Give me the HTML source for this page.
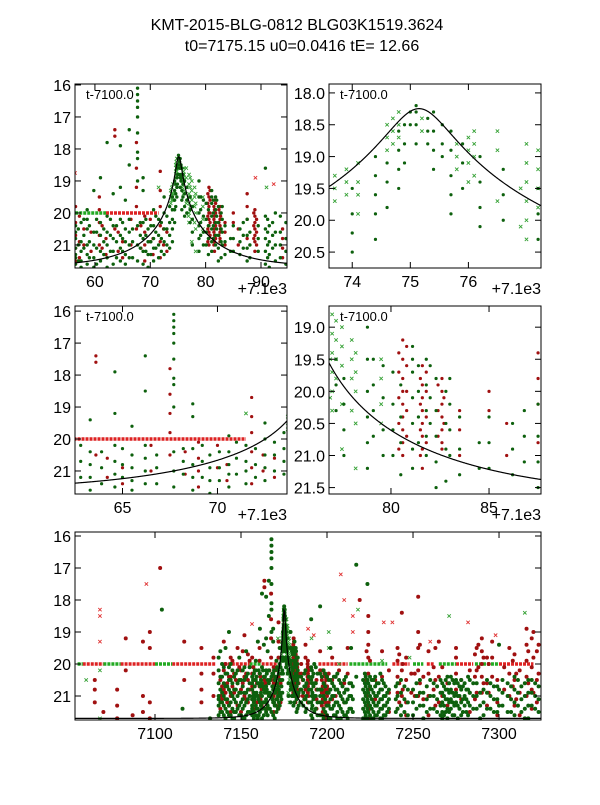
<!DOCTYPE html>
<html><head><meta charset="utf-8">
<style>
html,body{margin:0;padding:0;background:#fff;}
body{width:600px;height:800px;position:relative;overflow:hidden;font-family:"Liberation Sans",sans-serif;}
svg text{font-family:"Liberation Sans",sans-serif;}
</style></head>
<body>
<svg id="fig" width="600" height="800" xmlns="http://www.w3.org/2000/svg">
<text x="297" y="30" font-size="16" text-anchor="middle">KMT-2015-BLG-0812 BLG03K1519.3624</text>
<text x="302" y="51" font-size="16" text-anchor="middle">t0=7175.15 u0=0.0416 tE=  12.66</text>
</svg>
<script>
// ---- data (t - 7000, magnitudes) ----
const greenDots = ["104:18.3","116:21.4","132:21.7","138:19.6",
"137:20.2,20.6,21.0,21.3,21.6,19.8,21.1","139:20.4,20.9,21.2,21.5,20.0","141:19.5,20.3,20.7,21.1,21.4,21.7","143:20.1,20.5,20.8,21.3,21.6,19.0","145:20.6,21.0,21.4,21.7,20.2","147:20.3,20.8,21.2,21.5","149:19.8,20.5,20.9,21.3,21.6","151:20.2,20.7,21.1,21.4,21.7","153:20.4,20.9,21.2,21.6,19.6","155:20.1,20.6,21.0,21.5",
"156.5:20.4,20.8,21.1,21.4,21.6,20.6,21.3","157.5:20.3,20.9,21.2,21.5,21.7","158.6:19.9,20.5,21.0,21.3,21.6,20.2","159.8:20.6,21.0,21.4,21.7,19.3","161:20.3,20.7,21.2,21.5,18.9","162.2:17.8,20.1,20.6,21.0,21.4,21.7","163.3:20.4,20.8,21.2,21.6,19.4","164.6:17.9,19.2,20.2,20.7,21.1,21.5","165.5:20.5,20.9,21.3,21.6,19.6","166.2:17.4,18.5,20.2,20.6,21.0,21.4","167.7:16.1,16.3,16.5,16.7,17.0,17.5,18.1,18.3,19.0,20.4,21.0,21.5","168.7:19.3,20.3,20.8,21.2,21.6,18.9","169.6:20.5,20.9,21.3,21.7","170.6:19.9,20.4,20.8,21.1,21.5","171.5:20.2,20.7,21.0,21.4","172.5:19.5,20.0,20.5,20.9,21.3","173.5:19.8,20.3,20.7,21.1","174.0:19.5,19.9,20.2,20.5,20.9","174.4:19.0,19.3,19.6,19.9,20.3","174.8:18.6,18.9,19.2,19.5","175.1:18.2,18.3,18.5,18.8","175.4:18.3,18.6,18.9,19.2","175.7:18.6,18.9,19.3,19.6,19.9","176.2:19.0,19.4,19.8,20.1","177.6:19.8,20.2,20.6,21.0","178.8:19.0,19.5,20.0,20.4,20.8,21.2","179.6:19.6,20.1,20.6,21.0","180.5:19.9,20.4,20.8,21.3","181.1:19.3,19.7,20.1,20.5,20.9,21.2,19.5","182.3:19.8,20.3,20.7,21.1,21.5","182.8:20.0,20.5,20.9,21.4","183.5:20.4,20.9,21.3","184.5:20.8,21.2","186.2:20.5,20.9,21.3","187.5:20.2,20.7,21.1,21.5","190.8:20.1,20.5,20.8,21.2,21.6,18.6","191.5:20.4,20.9,21.3,21.7","192.6:20.0,20.6,21.0,21.5","194.5:20.3,20.8,21.2,21.6",
"196:18.2,20.3,20.8,21.2,21.6,21.0","198:20.6,21.0,21.4,21.7,20.2","200:20.4,20.9,21.3,21.6","202:20.5,20.8,21.1,21.4,21.7,19.5","204:20.7,21.0,21.3,21.6,20.4","206:20.3,20.8,21.2,21.5,21.7","208:20.6,21.0,21.4,21.7","210:20.5,20.9,21.2,21.6","212:20.8,21.1,21.5,21.7","214:19.5,20.6,21.0,21.4","217:16.9,20.4","222:20.6,20.9,21.2,21.5,21.7,20.3","223.5:17.5,20.5,20.8,21.1,21.4,21.7","225:20.7,21.0,21.3,21.6,20.4","227:20.5,20.9,21.2,21.5,21.7","229:20.6,21.0,21.3,21.6","231:20.8,21.1,21.4,21.7,20.3","233:20.6,21.0,21.3,21.6","235:20.9,21.2,21.5","240:20.7,21.1,21.5","243:20.5,20.9,21.3,21.6","247:20.8,21.2,21.6","252:20.6,21.0,21.4","256:20.9,21.3,21.7","260:20.5,21.0,21.4","264:20.7,21.1,21.5","267:20.6,20.9,21.2,21.5,21.7","270:20.4,20.8,21.1,21.4,21.7","273:20.5,20.9,21.2,21.6","276:20.6,21.0,21.3,21.7","279:20.7,21.1,21.5","282:20.4,20.8,21.2,21.6","285:20.6,21.0,21.4","289:20.9,21.3,21.7","293:20.5,20.9,21.4","297:20.7,21.1,21.5","300:19.4,20.8,21.3","305:20.6,21.0,21.5","309:20.4,20.8,21.2,21.6","313:20.7,21.1,21.5","317:20.5,20.9,21.3,21.7","321:20.6,21.0,21.4"];
const greenDotsExtra = ["138:20.4,20.8,21.2,21.5","140:20.1,20.6,21.0,21.3,21.6","142:20.3,20.7,21.1,21.5","144:20.0,20.5,20.9,21.2,21.6","146:20.4,20.8,21.1,21.5,21.7","148:20.2,20.6,21.0,21.4","150:20.5,20.9,21.2,21.6","152:20.1,20.5,20.9,21.3,21.7","154:20.3,20.8,21.1,21.5",
"157:20.5,21.0,21.5","158:20.2,20.7,21.1","159:20.4,20.9,21.4","160.3:20.2,20.6,21.1,21.6","161.6:20.5,20.9,21.3","162.8:20.2,20.7,21.2","163.9:20.4,20.9,21.4","165:20.3,20.8,21.2","166.8:20.5,20.9,21.4","168.2:20.3,20.7,21.1","169.2:20.2,20.7,21.2","170.1:20.4,20.9,21.3","171:20.1,20.6,21.1","172:20.3,20.8,21.2","173:20.1,20.5,21.0",
"174.6:19.1,19.4,19.8","174.9:18.5,18.8,19.1","175.0:18.3,18.5","175.3:18.4,18.6,18.8","175.55:18.5,18.8,19.0","175.9:18.8,19.1,19.5","176.6:19.2,19.6,20.0","177.2:19.5,19.9,20.3",
"179.1:19.5,19.9,20.3,20.7","180.1:19.7,20.2,20.6,21.0","181.4:19.6,20.0,20.4,20.8","181.8:19.5,19.9,20.3,20.7,21.0","182.0:19.6,20.1,20.5","183.0:19.8,20.2,20.6,21.0","185:20.4,20.8,21.2","186.8:20.3,20.7,21.1","188:20.6,21.0,21.4","189.5:20.4,20.8,21.2","191.2:20.2,20.6,21.0,21.4","192.1:20.3,20.7,21.1","193.5:20.1,20.6,21.0,21.4",
"197:20.4,20.8,21.2,21.6","199:20.3,20.7,21.1,21.5","201:20.5,20.9,21.3,21.7","203:20.6,21.0,21.4","205:20.4,20.8,21.2,21.6","207:20.5,20.9,21.3","209:20.7,21.1,21.5","211:20.4,20.8,21.2,21.6","213:20.6,21.0,21.4","215:20.7,21.1,21.5",
"221:20.5,20.8,21.1,21.4,21.7","222.5:20.4,20.7,21.0,21.3,21.6","224:20.6,20.9,21.2,21.5,21.8","226:20.5,20.8,21.1,21.4,21.7","228:20.4,20.7,21.0,21.3,21.6","230:20.6,20.9,21.2,21.5","232:20.5,20.8,21.1,21.4,21.7","234:20.7,21.0,21.3,21.6","236:20.8,21.1,21.4",
"241:20.6,21.0,21.4","245:20.7,21.1,21.5","250:20.8,21.2,21.6","254:20.5,20.9,21.3","258:20.7,21.1,21.5","262:20.6,21.0,21.4","266:20.5,20.9,21.3,21.6","268:20.7,21.0,21.3,21.6","269:20.5,20.8,21.1,21.5","271:20.6,20.9,21.2,21.5","272:20.4,20.8,21.1,21.4","274:20.6,21.0,21.3,21.6","275:20.5,20.9,21.2","277:20.7,21.0,21.4","278:20.5,20.8,21.2,21.6","280:20.6,21.0,21.3","281:20.8,21.1,21.5","283:20.5,20.9,21.3","287:20.6,21.0,21.4","291:20.8,21.2,21.6","295:20.6,21.0,21.4","299:20.7,21.1,21.5","302:20.5,20.9,21.3","307:20.7,21.1,21.5","311:20.5,20.9,21.3","315:20.6,21.0,21.4,21.7","319:20.5,20.9,21.3","323:20.7,21.1,21.5"];
const redDots = ["065:20.5,20.8,21.2","070:21.5","078:20.8,21.3,21.7","083:19.2,20.2","087:21.6","093:19.3,21.0,21.5","097:19.0,19.5,21.2,21.7","103:17.0","117:19.3,20.5","127:19.5,20.3,20.8,21.2","134:19.8,20.3,21.0",
"138:20.5,21.0,21.4","140:19.3,20.2,20.8","142:20.6,21.2","144:19.8,20.4,21.0,21.5","146:20.3,20.9","148:19.5,20.6,21.3","150:20.2,20.8,21.5","152:19.1,20.4,21.0","154:19.7,20.5,21.2",
"156.5:19.8,20.3,20.7,21.1,21.5","158:20.5,21.0","160.8:19.5,19.9,20.3,20.7,21.0","162:20.8,21.3","163.6:17.4,17.6,20.5","165:20.9,21.4","166.5:20.2,21.0","167.5:17.8,18.6,19.2,19.8,20.5","169:20.1,20.6,21.0,21.5","170.5:20.8,21.3","171.8:18.7,19.3,19.8,20.4,20.9,21.4","173:20.6,21.2",
"180.6:19.2,19.5,19.8,20.0,20.2,20.4,20.6,20.8,21.0","181.6:19.6,19.9,20.1,20.3,20.5,20.7,20.9,21.2","182.6:19.8,20.0,20.2,20.4,20.6,20.8,20.9","183.5:20.3,20.6,21.0","185.0:20.0,20.3","185.9:20.5,21.0","187.5:19.4,19.8,20.2,20.8","188.9:19.9,20.1,20.3,20.5,20.7,20.9,21.2","193.9:20.5,20.8,21.1,21.4",
"196:19.6,20.2,20.8","198.5:20.3,20.6,20.9,21.2,21.5,21.7","200:20.4,20.7,21.0,21.3,21.6","203:19.8,20.5,21.1","207:20.2,20.9","212:19.5,20.3","219:18.0","224:18.5,19.0,19.4,19.8,20.3,20.8,21.3,21.7","228:20.5,21.1","232:19.6,20.4","236:20.2,20.9,21.5","241:19.5,19.9,20.4,20.9,21.4","243.5:18.4,20.2,21.0","246:19.8,20.5,21.2,21.6","249:20.3,20.9","253:17.9,19.0,19.5,20.2,21.0","256:20.4,21.1","259:19.6,20.3,21.0,21.6","262:20.1,20.8","265:19.3,20.4,21.2","270:20.6,21.3","275:19.5,19.8,20.3,20.8","278:20.5,21.1","283:20.2,20.9,21.5","287:19.5,20.2,20.9","290:19.2,19.6,20.0,20.4,20.9","293:19.8,20.6,21.3","296:19.3,19.8,20.4","299:20.5,21.2,21.6","303:20.1,20.8","306:19.5,20.3,21.0","309:19.7,20.5,21.3","312:20.2,20.9,21.6","316:18.9,19.4,19.9,20.4,21.0","319:19.2,20.1,20.8,21.4","322:19.6,20.5,21.2"];
const redDotsExtra = ["139:20.7,21.1","141:20.0,20.9","143:20.4,21.3","145:19.9,20.7","147:20.5,21.2","149:20.1,20.9","151:19.6,20.6","153:20.3,21.1","155:19.9,20.8",
"157.2:20.1,20.9,21.4","159.3:20.6,21.2","161.3:20.4,21.1","164.2:20.6,21.2","168.3:20.4,21.1","170:20.2,20.9","172.4:20.5,21.0",
"180.4:19.4,19.7,20.1,20.5,20.9","180.8:19.3,19.6,20.0,20.3,20.7","181.5:19.8,20.2,20.6,21.0","181.8:19.7,20.0,20.4,20.8","182.4:19.9,20.3,20.7","182.7:20.1,20.5","188.7:20.0,20.4,20.8","189.2:20.2,20.6,21.0",
"197:20.5,20.9,21.3","197.5:20.2,20.7,21.1,21.5","199:20.4,20.8,21.2,21.6","199.5:20.5,20.9,21.3","201:20.3,20.8,21.2","205:20.4,21.0","210:20.6,21.2","223:19.6,20.5,21.0","225:19.9,20.7,21.4","242:19.7,20.6,21.2","244:20.0,20.8","251:20.3,21.0","254:19.4,20.6","263:19.5,20.5,21.3","267:20.1,21.0","286:19.7,20.4,21.1","288:19.4,20.1","291:19.8,20.6","294:20.0,20.9","308:19.9,20.7","310:20.3,21.1","317:19.6,20.6","320:19.0,19.8,20.9","323:19.4,20.3"];
const greenCross = ["060:20.5","068:20.2,21.7","173.7:19.3,19.5,19.7","174.1:19.1,19.4,19.6,19.9","174.7:18.4,18.6,18.8","175.2:18.4,18.6","176.0:18.7,18.9,19.1,19.4","176.5:18.6,18.9,19.7","177.0:18.8,19.1,19.4,19.7,20.0,20.3","177.5:19.0,19.3,19.6,20.2,20.9","178.2:19.4,19.7,20.0,20.5,21.2","179.5:19.5,19.8,20.2,20.5","171.5:19.2","191:19.2","201:19.0,19.5","207:20.0","218:18.3","232:19.9","248:19.8","271:18.5","315:18.4",
"173.9:19.2,19.4,19.6","174.6:18.5,18.7,18.9","174.8:18.3,18.5,18.7","175.8:18.8,19.0,19.2","176.1:18.6,18.8,19.0,19.3","177.2:18.9,19.2,19.5,19.8","178.0:19.2,19.5,19.8,20.3","176.9:19.5,20.1"];
const redCross = ["068:19.3,18.5,18.3","095:17.5","156.4:18.75","189:18.9","192.3:19.1","208:17.2","210:18.0","215:18.5,19.0","233:18.7","238:18.7","260:19.3","282:18.7","298:19.1"];
const flagRed = [[58,70],[80,100],[110,135],[140,155],[162,171.5],[195,212],[238,248],[258,262],[275,285],[300,320]];
const flagGreen = [[55,58],[70,80],[100,110],[155,162],[213,235],[250,256],[265,275],[286,300]];
const flagMag = 20.0;
const t0 = 7175.15, u0 = 0.0416, tE = 12.66, baseMag = 21.7;

const NS = "http://www.w3.org/2000/svg";
const fig = document.getElementById('fig');
function el(tag, attrs, parent){const e=document.createElementNS(NS,tag);for(const k in attrs)e.setAttribute(k,attrs[k]);(parent||fig).appendChild(e);return e;}
function parse(list){const out=[];list.forEach(s=>{const [t,ms]=s.split(':');ms.split(',').forEach(m=>out.push([7000+parseFloat(t),parseFloat(m)]));});return out;}
const G=parse(greenDots.concat(greenDotsExtra)), R=parse(redDots.concat(redDotsExtra)), GX=parse(greenCross), RX=parse(redCross);
function model(t){const u=Math.sqrt(u0*u0+Math.pow((t-t0)/tE,2));const A=(u*u+2)/(u*Math.sqrt(u*u+4));return baseMag-2.5*Math.log10(A);}

const panels = [
 {name:'panel-peak-wide',x:75,y:84,w:212,h:184,tmin:7156.4,tmax:7194.7,mtop:15.97,mbot:21.72,xt:[60,70,80,90],xl:['60','70','80','90'],yt:[16,17,18,19,20,21],yl:['16','17','18','19','20','21'],off:true,r:1.7},
 {name:'panel-peak-zoom',x:329,y:84,w:212,h:184,tmin:7173.6,tmax:7177.25,mtop:17.86,mbot:20.75,xt:[74,75,76],xl:['74','75','76'],yt:[18,18.5,19,19.5,20,20.5],yl:['18.0','18.5','19.0','19.5','20.0','20.5'],off:true,r:1.6},
 {name:'panel-rise',x:75,y:306,w:212,h:188,tmin:7162.5,tmax:7173.66,mtop:15.84,mbot:21.72,xt:[65,70],xl:['65','70'],yt:[16,17,18,19,20,21],yl:['16','17','18','19','20','21'],off:true,r:1.6},
 {name:'panel-fall',x:329,y:306,w:212,h:188,tmin:7176.84,tmax:7187.65,mtop:18.67,mbot:21.6,xt:[80,85],xl:['80','85'],yt:[19,19.5,20,20.5,21,21.5],yl:['19.0','19.5','20.0','20.5','21.0','21.5'],off:true,r:1.6},
 {name:'panel-full-season',x:75,y:532,w:466,h:188,tmin:7053.5,tmax:7324.4,mtop:15.875,mbot:21.75,xt:[7100,7150,7200,7250,7300],xl:['7100','7150','7200','7250','7300'],yt:[16,17,18,19,20,21],yl:['16','17','18','19','20','21'],off:false,r:2.0}
];

panels.forEach((p,i)=>{
 const g=el('g',{});
 
 
 const cid='clip'+i;
 const cp=el('clipPath',{id:cid},g); el('rect',{x:p.x,y:p.y,width:p.w,height:p.h},cp);
 const sx=t=>p.x+(t-p.tmin)/(p.tmax-p.tmin)*p.w;
 const sy=m=>p.y+(m-p.mtop)/(p.mbot-p.mtop)*p.h;
 const plot=el('g',{'clip-path':'url(#'+cid+')'},g);
 [[flagRed,'#dd2222'],[flagGreen,'#22aa22']].forEach(([segs,c])=>{
  segs.forEach(s=>{
   const ln=el('line',{x1:sx(7000+s[0]),x2:sx(7000+s[1]),y1:sy(flagMag),y2:sy(flagMag),stroke:c,'stroke-width':3.5,'stroke-dasharray':'3,1'},plot);
   
   
  });
 });
 const cross=(pts,c)=>pts.forEach(([t,m])=>{const x=sx(t),y=sy(m);
   const pth=el('path',{d:`M${x-1.7},${y-1.7}L${x+1.7},${y+1.7}M${x-1.7},${y+1.7}L${x+1.7},${y-1.7}`,stroke:c,'stroke-width':0.9,fill:'none'},plot);
   
   });
 const dots=(pts,c)=>pts.forEach(([t,m])=>{
   const d=el('circle',{cx:sx(t),cy:sy(m),r:p.r,fill:c},plot);
   
   });
 cross(GX,'#33a033'); cross(RX,'#e03030');
 dots(R,'#a01010'); dots(G,'#0d600d');
 let d='';for(let k=0;k<=600;k++){const t=p.tmin+(p.tmax-p.tmin)*k/600;d+=(k?'L':'M')+sx(t).toFixed(2)+','+sy(model(t)).toFixed(2);}
 const mc=el('path',{d:d,stroke:'#000',fill:'none','stroke-width':1.2},plot);
 
 
 const fr=el('rect',{x:p.x,y:p.y,width:p.w,height:p.h,fill:'none',stroke:'#000','stroke-width':1},g);
 
 
 p.xt.forEach((v,j)=>{const t=p.off?7100+v:v;const x=sx(t);
  el('line',{x1:x,x2:x,y1:p.y+p.h,y2:p.y+p.h-6,stroke:'#000'},g);
  el('line',{x1:x,x2:x,y1:p.y,y2:p.y+6,stroke:'#000'},g);
  const tx=el('text',{x:x,y:p.y+p.h+19,'font-size':16,'text-anchor':'middle'},g);tx.textContent=p.xl[j];
  
  });
 p.yt.forEach((v,j)=>{const y=sy(v);
  el('line',{x1:p.x,x2:p.x+6,y1:y,y2:y,stroke:'#000'},g);
  el('line',{x1:p.x+p.w,x2:p.x+p.w-6,y1:y,y2:y,stroke:'#000'},g);
  const tx=el('text',{x:p.x-4,y:y+6,'font-size':16,'text-anchor':'end'},g);tx.textContent=p.yl[j];
  
  });
 if(p.off){
  const o=el('text',{x:p.x+p.w,y:p.y+p.h+26,'font-size':16,'text-anchor':'end'},g);o.textContent='+7.1e3';
  
  
  const l=el('text',{x:p.x+11,y:p.y+15,'font-size':13},g);l.textContent='t-7100.0';
  
  
 }
});
</script>
</body></html>
